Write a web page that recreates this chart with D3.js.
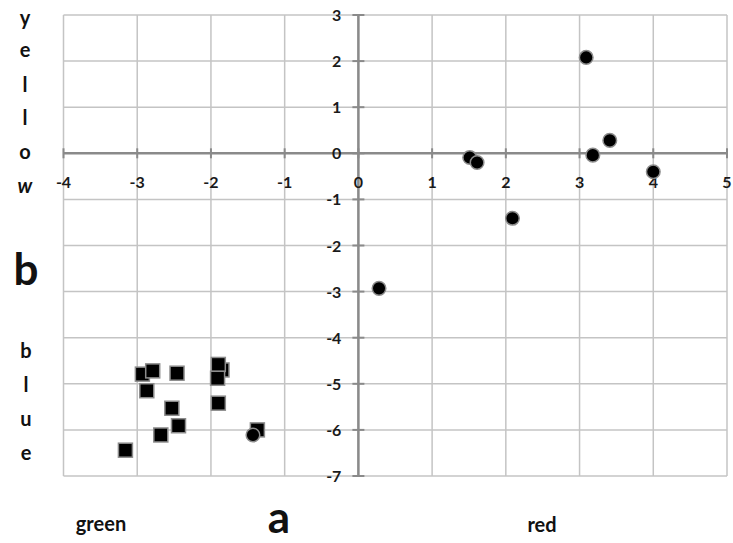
<!DOCTYPE html>
<html><head><meta charset="utf-8">
<script src="https://cdn.jsdelivr.net/npm/d3@7"></script>
<style>body{margin:0;background:#fff}svg{display:block}</style>
</head><body>
<svg id="c" width="733" height="543"></svg>
<script>
const xTicks = [-4,-3,-2,-1,0,1,2,3,4,5];
const yTicks = [3,2,1,0,-1,-2,-3,-4,-5,-6,-7];
const circleX = [3.09,1.51,1.61,3.18,3.41,4.00,2.09,0.28,-1.43];
const circleY = [2.08,-0.09,-0.20,-0.04,0.28,-0.40,-1.41,-2.93,-6.11];
const squareX = [-1.85,-2.93,-2.79,-2.46,-2.87,-1.90,-1.91,-1.90,-2.53,-2.44,-2.68,-3.16,-1.37];
const squareY = [-4.70,-4.79,-4.72,-4.77,-5.15,-4.58,-4.88,-5.42,-5.53,-5.91,-6.11,-6.44,-6.00];
const yLetters = ["y","e","l","l","o","w"];
const blueLetters = ["b","l","u","e"];

const svg = d3.select("#c");
const x = d3.scaleLinear().domain([-4,5]).range([63.5,727]);
const y = d3.scaleLinear().domain([3,-7]).range([15,476]);
const font = "Lato, 'Open Sans', sans-serif";

// grid
svg.append("g").selectAll("line").data(xTicks).join("line")
  .attr("x1",d=>x(d)).attr("x2",d=>x(d)).attr("y1",y(3)).attr("y2",y(-7))
  .attr("stroke","#c4c4c4").attr("stroke-width",1.5);
svg.append("g").selectAll("line").data(yTicks).join("line")
  .attr("y1",d=>y(d)).attr("y2",d=>y(d)).attr("x1",x(-4)).attr("x2",x(5))
  .attr("stroke","#c4c4c4").attr("stroke-width",1.5);

// axes
const ax = svg.append("g");
ax.append("line").attr("x1",x(-4)).attr("x2",x(5)).attr("y1",y(0)).attr("y2",y(0))
  .attr("stroke","#8a8a8a").attr("stroke-width",2.5);
ax.append("line").attr("x1",x(0)).attr("x2",x(0)).attr("y1",y(3)).attr("y2",y(-7))
  .attr("stroke","#8a8a8a").attr("stroke-width",2.5);
ax.selectAll(".xt").data(xTicks).join("line").attr("class","xt")
  .attr("x1",d=>x(d)).attr("x2",d=>x(d)).attr("y1",y(0)-5).attr("y2",y(0)+5)
  .attr("stroke","#8a8a8a").attr("stroke-width",2);
ax.selectAll(".yt").data(yTicks).join("line").attr("class","yt")
  .attr("y1",d=>y(d)).attr("y2",d=>y(d)).attr("x1",x(0)-6).attr("x2",x(0)+6)
  .attr("stroke","#8a8a8a").attr("stroke-width",2);

// tick labels
ax.selectAll(".xl").data(xTicks).join("text").attr("class","xl")
  .attr("x",d=>x(d)).attr("y",y(0)+35).attr("text-anchor","middle")
  .attr("font-family",font).attr("font-weight","bold").attr("font-size",16).attr("fill","#1a1a1a")
  .text(d=>d);
ax.selectAll(".yl").data(yTicks).join("text").attr("class","yl")
  .attr("x",x(0)-17).attr("y",d=>y(d)+6).attr("text-anchor","end")
  .attr("font-family",font).attr("font-weight","bold").attr("font-size",16).attr("fill","#1a1a1a")
  .text(d=>d);

// squares
const sq = 14;
svg.append("g").selectAll("rect").data(squareX).join("rect")
  .attr("x",(d,i)=>x(d)-sq/2).attr("y",(d,i)=>y(squareY[i])-sq/2)
  .attr("width",sq).attr("height",sq)
  .attr("fill","#000").attr("stroke","#8c8c8c").attr("stroke-width",1.5);
// circles
svg.append("g").selectAll("circle").data(circleX).join("circle")
  .attr("cx",d=>x(d)).attr("cy",(d,i)=>y(circleY[i])).attr("r",6.8)
  .attr("fill","#000").attr("stroke","#8c8c8c").attr("stroke-width",1.5);

// side labels
const lab = svg.append("g").attr("font-family",font).attr("font-weight","bold").attr("fill","#111");
const yBase = [25,57,92,125,159,193];
lab.selectAll(".yw").data(yLetters).join("text").attr("class","yw")
  .attr("x",25).attr("y",(d,i)=>yBase[i]).attr("text-anchor","middle")
  .attr("font-size",20).attr("font-style",(d,i)=>i===5?"italic":"normal").text(d=>d);
const bBase = [358,392,426,460];
lab.selectAll(".bl").data(blueLetters).join("text").attr("class","bl")
  .attr("x",26).attr("y",(d,i)=>bBase[i]).attr("text-anchor","middle")
  .attr("font-size",20).text(d=>d);
lab.append("text").attr("x",26).attr("y",285).attr("text-anchor","middle").attr("font-size",44).text("b");
lab.append("text").attr("x",101).attr("y",531).attr("text-anchor","middle").attr("font-size",20).text("green");
lab.append("text").attr("x",279).attr("y",533).attr("text-anchor","middle").attr("font-size",44).text("a");
lab.append("text").attr("x",542).attr("y",532).attr("text-anchor","middle").attr("font-size",20).text("red");
</script>
</body></html>
